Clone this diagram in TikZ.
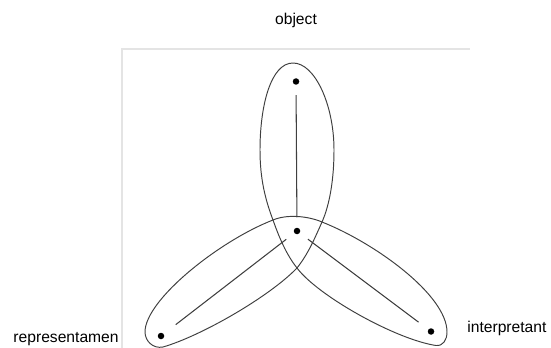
\documentclass[tikz,border=0pt]{standalone}
\usepackage{fontspec}
\setmainfont{Liberation Sans}
\definecolor{lineGray}{HTML}{3F3F3F}
\definecolor{frameGray}{HTML}{E4E4E4}
\tikzset{
  dot/.style={circle, fill=black, inner sep=0pt, minimum size=0.13cm},
  link/.style={color=lineGray, line width=0.6pt, shorten <=0.2cm, shorten >=0.2cm},
  petal/.style={color=lineGray, line width=0.55pt},
  frame/.style={color=frameGray, line width=1.1pt},
  labelText/.style={font=\fontsize{8.9}{10}\selectfont, inner sep=0pt},
}
\begin{document}
\begin{tikzpicture}[x=0.02cm, y=-0.02cm]
    \useasboundingbox (0,0) rectangle (551,348);
    \draw[frame] (470,49) -- (122,49) -- (122,348);
    \node[dot] (obj) at (296,81.5) {};
    \node[dot] (sgn) at (297,231) {};
    \node[dot] (rep) at (161,336) {};
    \node[dot] (int) at (431,331.5) {};
    \draw[petal] (273,220) .. controls (265,199) and (260,178) .. (260,150)
      .. controls (260,105) and (271,63) .. (293,63)
      .. controls (315,63) and (334,105) .. (334,150)
      .. controls (334,178) and (330,204) .. (322,222)
      .. controls (314,240) and (308,254) .. (297,268)
      .. controls (269,297) and (201,336) .. (163,347)
      .. controls (153,349) and (145,341) .. (145,332)
      .. controls (145,300) and (219,241) .. (273,220)
      .. controls (287,214) and (308,216) .. (322,222)
      .. controls (375,243) and (447,295) .. (447,332)
      .. controls (447,340) and (443,346.2) .. (436,345.5)
      .. controls (396,339.5) and (318,296) .. (297,268)
      .. controls (286,254) and (279,237) .. (273,220) -- cycle;
    \draw[link] (obj) -- (sgn);
    \draw[link, shorten <=0.3cm] (rep) -- (sgn);
    \draw[link, shorten >=0.24cm] (sgn) -- (int);
    \node[labelText, anchor=base] (objLabel) at (296,25) {object};
    \node[labelText, anchor=base east] (repLabel) at (119,342) {representamen};
    \node[labelText, anchor=base west] (intLabel) at (467,332) {interpretant};
  \end{tikzpicture}
\end{document}
